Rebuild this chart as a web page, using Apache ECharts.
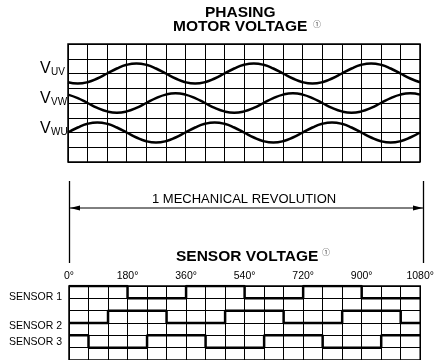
<!DOCTYPE html>
<html>
<head>
<meta charset="utf-8">
<script src="https://cdn.jsdelivr.net/npm/echarts@6/dist/echarts.min.js"></script>
<style>
  html, body { margin: 0; padding: 0; background: #fff; }
  #chart { width: 437px; height: 360px; }
</style>
</head>
<body>
<div id="chart"></div>
<script>
// phase angle (electrical degrees along one mechanical revolution)
const angles = [0, 30, 60, 90, 120, 150, 180, 210, 240, 270, 300, 330, 360, 390, 420, 450, 480, 510,
  540, 570, 600, 630, 660, 690, 720, 750, 780, 810, 840, 870, 900, 930, 960, 990, 1020, 1050, 1080];

// motor voltages (grid rows as units)
const vUV = [5.41, 5.32, 5.41, 5.66, 6.00, 6.34, 6.59, 6.68, 6.59, 6.34, 6.00, 5.66,
  5.41, 5.32, 5.41, 5.66, 6.00, 6.34, 6.59, 6.68, 6.59, 6.34, 6.00, 5.66,
  5.41, 5.32, 5.41, 5.66, 6.00, 6.34, 6.59, 6.68, 6.59, 6.34, 6.00, 5.66, 5.41];
const vVW = [4.57, 4.33, 4.00, 3.67, 3.43, 3.34, 3.43, 3.67, 4.00, 4.33, 4.57, 4.66,
  4.57, 4.33, 4.00, 3.67, 3.43, 3.34, 3.43, 3.67, 4.00, 4.33, 4.57, 4.66,
  4.57, 4.33, 4.00, 3.67, 3.43, 3.34, 3.43, 3.67, 4.00, 4.33, 4.57, 4.66, 4.57];
const vWU = [2.00, 2.34, 2.59, 2.68, 2.59, 2.34, 2.00, 1.66, 1.41, 1.32, 1.41, 1.66,
  2.00, 2.34, 2.59, 2.68, 2.59, 2.34, 2.00, 1.66, 1.41, 1.32, 1.41, 1.66,
  2.00, 2.34, 2.59, 2.68, 2.59, 2.34, 2.00, 1.66, 1.41, 1.32, 1.41, 1.66, 2.00];

// hall sensor states, one per 60 degree step
const sensorAngles = [0, 60, 120, 180, 240, 300, 360, 420, 480, 540, 600, 660, 720, 780, 840, 900, 960, 1020, 1080];
const sensor1 = [1, 1, 1, 0, 0, 0, 1, 1, 1, 0, 0, 0, 1, 1, 1, 0, 0, 0];
const sensor2 = [0, 0, 1, 1, 1, 0, 0, 0, 1, 1, 1, 0, 0, 0, 1, 1, 1, 0];
const sensor3 = [1, 0, 0, 0, 1, 1, 1, 0, 0, 0, 1, 1, 1, 0, 0, 0, 1, 1];
const degreeTicks = [0, 180, 360, 540, 720, 900, 1080];

const FONT = 'Liberation Sans, Arial, Helvetica, sans-serif';

const myChart = echarts.init(document.getElementById('chart'));

const wave = (vals) => angles.map((a, i) => [a, vals[i]]);
const steps = (states, base) => sensorAngles.map((a, i) => [a, base + states[Math.min(i, states.length - 1)]]);

const gridLine = { show: true, lineStyle: { color: '#000', width: 1 } };

const waveSeries = (vals) => ({
  type: 'line', xAxisIndex: 0, yAxisIndex: 0, data: wave(vals),
  smooth: true, showSymbol: false, silent: true,
  lineStyle: { color: '#000', width: 2.5 }
});
const sensorSeries = (states, base) => ({
  type: 'line', xAxisIndex: 1, yAxisIndex: 1, data: steps(states, base),
  step: 'end', showSymbol: false, silent: true,
  lineStyle: { color: '#000', width: 2.5 }
});

const vLabel = (sub, y) => ([
  { type: 'text', left: 40, top: y - 9, style: { text: 'V', font: '16px ' + FONT, fill: '#000' } },
  { type: 'text', left: 51, top: y - 3, style: { text: sub, font: '10px ' + FONT, fill: '#000' } }
]);
const sLabel = (txt, y) => ({
  type: 'text', right: 375, top: y - 6, style: { text: txt, font: '10.5px ' + FONT, fill: '#000' }
});

myChart.setOption({
  animation: false,
  backgroundColor: '#fff',
  grid: [
    { left: 68, top: 44, width: 352, height: 118, show: true, borderColor: '#000', borderWidth: 1.5 },
    { left: 69, top: 286, width: 354, height: 88.8, show: true, borderColor: '#000', borderWidth: 1.5 }
  ],
  xAxis: [
    {
      gridIndex: 0, type: 'value', min: 0, max: 1080, interval: 60,
      axisLine: { show: false }, axisTick: { show: false }, axisLabel: { show: false },
      splitLine: gridLine
    },
    {
      gridIndex: 1, type: 'value', position: 'top', min: 0, max: 1080, interval: 60,
      axisLine: { show: false }, axisTick: { show: false },
      axisLabel: {
        show: true, margin: 4, fontSize: 10.5, fontFamily: FONT, color: '#000',
        showMinLabel: true, showMaxLabel: true,
        formatter: (v) => degreeTicks.indexOf(v) >= 0 ? v + '°' : ''
      },
      splitLine: gridLine
    }
  ],
  yAxis: [
    {
      gridIndex: 0, type: 'value', min: 0, max: 8, interval: 1,
      axisLine: { show: false }, axisTick: { show: false }, axisLabel: { show: false },
      splitLine: gridLine
    },
    {
      gridIndex: 1, type: 'value', min: -1, max: 5, interval: 1,
      axisLine: { show: false }, axisTick: { show: false }, axisLabel: { show: false },
      splitLine: gridLine
    }
  ],
  series: [
    waveSeries(vUV),
    waveSeries(vVW),
    waveSeries(vWU),
    sensorSeries(sensor1, 4),
    sensorSeries(sensor2, 2),
    sensorSeries(sensor3, 0)
  ],
  graphic: [
    // titles
    { type: 'text', left: 205, top: 5, style: { text: 'PHASING', font: 'bold 15.5px ' + FONT, fill: '#000' } },
    { type: 'text', left: 173, top: 19, style: { text: 'MOTOR VOLTAGE', font: 'bold 15.5px ' + FONT, fill: '#000' } },
    { type: 'text', left: 313, top: 20, style: { text: '①', font: '8px Noto Sans CJK SC', fill: '#444' } },
    ...vLabel('UV', 70),
    ...vLabel('VW', 100),
    ...vLabel('WU', 130),
    // one mechanical revolution marker
    { type: 'line', shape: { x1: 69.5, y1: 181, x2: 69.5, y2: 263 }, style: { stroke: '#000', lineWidth: 1.3 } },
    { type: 'line', shape: { x1: 423.5, y1: 181, x2: 423.5, y2: 263 }, style: { stroke: '#000', lineWidth: 1.3 } },
    { type: 'line', shape: { x1: 70, y1: 208, x2: 423, y2: 208 }, style: { stroke: '#000', lineWidth: 1 } },
    { type: 'polygon', shape: { points: [[70, 208], [80, 205.5], [80, 210.5]] }, style: { fill: '#000' } },
    { type: 'polygon', shape: { points: [[423, 208], [413, 205.5], [413, 210.5]] }, style: { fill: '#000' } },
    { type: 'text', left: 152, top: 193, style: { text: '1 MECHANICAL REVOLUTION', font: '13px ' + FONT, fill: '#000' } },
    { type: 'text', left: 176, top: 249, style: { text: 'SENSOR VOLTAGE', font: 'bold 15.5px ' + FONT, fill: '#000' } },
    { type: 'text', left: 322, top: 248, style: { text: '①', font: '8px Noto Sans CJK SC', fill: '#444' } },
    sLabel('SENSOR 1', 298),
    sLabel('SENSOR 2', 327),
    sLabel('SENSOR 3', 343)
  ]
});

window.onresize = function () {
  myChart.resize();
};
</script>
</body>
</html>
